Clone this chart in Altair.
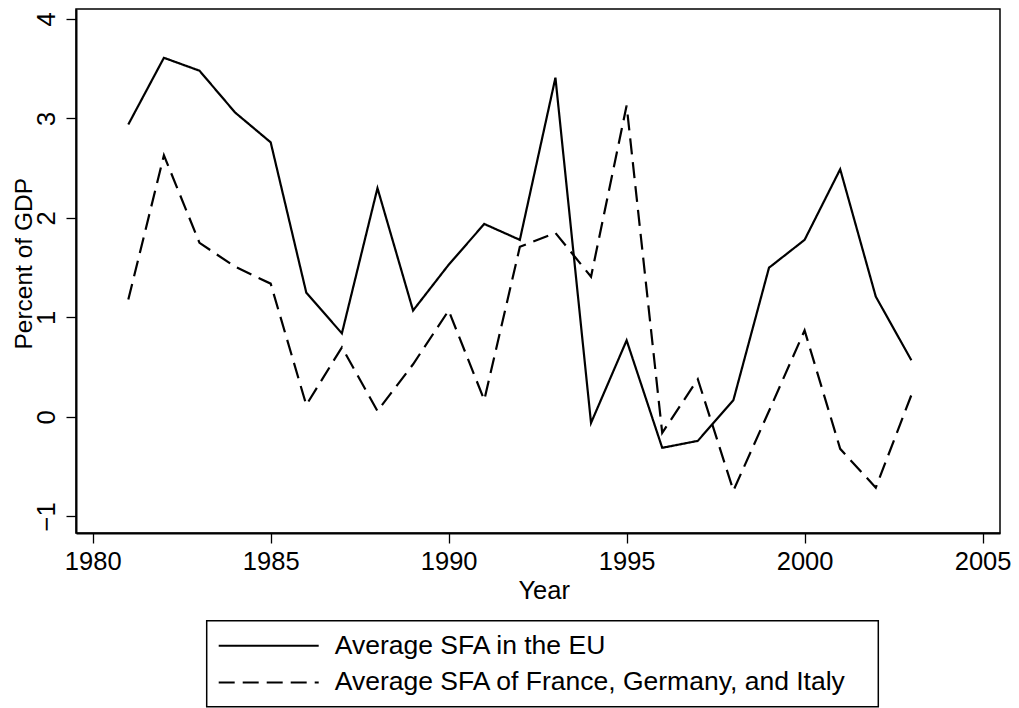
import altair as alt
import pandas as pd

# ---- data ----
years = list(range(1981, 2004))
eu_avg = [2.94, 3.61, 3.48, 3.06, 2.76, 1.25, 0.84, 2.30, 1.07, 1.53, 1.94, 1.78,
          3.41, -0.06, 0.77, -0.31, -0.24, 0.17, 1.50, 1.78, 2.49, 1.21, 0.57]
fgi_avg = [1.18, 2.63, 1.75, 1.51, 1.34, 0.12, 0.70, 0.06, 0.53, 1.07, 0.17, 1.71,
           1.85, 1.41, 3.13, -0.16, 0.38, -0.74, 0.06, 0.87, -0.32, -0.71, 0.22]
series_names = ["Average SFA in the EU", "Average SFA of France, Germany, and Italy"]
x_ticks = [1980, 1985, 1990, 1995, 2000, 2005]
y_ticks = [-1, 0, 1, 2, 3, 4]

df = pd.DataFrame({
    "Year": years + years,
    "Value": eu_avg + fgi_avg,
    "Series": [series_names[0]] * len(years) + [series_names[1]] * len(years),
})

FONT = "Liberation Sans"
FS = 25.5

common_axis = dict(
    grid=False, labelFlush=False, labelFont=FONT, labelFontSize=FS, labelColor="black",
    titleFont=FONT, titleFontSize=FS, titleFontWeight="normal", titleColor="black",
    tickColor="black", domainColor="black", tickSize=10, tickWidth=1.3, domainWidth=2,
)

y_axis_opts = dict(common_axis)
y_axis_opts["titleFontSize"] = 24.5

lines = alt.Chart(df).mark_line(color="black", strokeWidth=2.2).encode(
    x=alt.X("Year:Q",
            scale=alt.Scale(domain=[1979.53, 2005.49], nice=False, zero=False),
            axis=alt.Axis(values=x_ticks, format="d", title="Year",
                          labelBaseline="alphabetic", labelPadding=26,
                          titleAlign="center", titleBaseline="alphabetic",
                          titleX=467.7, titleY=65, **common_axis)),
    y=alt.Y("Value:Q",
            scale=alt.Scale(domain=[-1.166, 4.1003], nice=False, zero=False),
            axis=alt.Axis(values=y_ticks, title="Percent of GDP",
                          labelAngle=270, labelAlign="center", labelBaseline="alphabetic",
                          labelPadding=11.7,
                          titleAngle=270, titleAlign="center", titleBaseline="alphabetic",
                          titleX=-45, titleY=254.3, **y_axis_opts)),
    strokeDash=alt.StrokeDash(
        "Series:N",
        scale=alt.Scale(domain=series_names, range=[[1, 0], [16, 8]]),
        legend=alt.Legend(title=None, orient="none", legendX=130.7, legendY=611.7,
                          direction="vertical", symbolType="stroke", symbolSize=10000,
                          symbolStrokeWidth=2, symbolStrokeColor="black",
                          clipHeight=28, rowPadding=8.7, padding=11, labelOffset=15,
                          labelFont=FONT, labelFontSize=26.5, labelColor="black",
                          labelLimit=0)),
)

box = alt.Chart(alt.Data(values=[{"k": 1}])).mark_rect(
    fillOpacity=0, stroke="black", strokeWidth=1.5
).encode(
    x=alt.value(130.7), x2=alt.value(802.3),
    y=alt.value(611.7), y2=alt.value(697.7),
)

chart = alt.layer(lines, box).properties(
    width=924, height=524,
    padding={"left": 68, "top": 1, "right": 11, "bottom": 175},
    autosize=alt.AutoSizeParams(type="none"),
    background="white",
).configure(
    font=FONT
).configure_view(
    stroke="black", strokeWidth=1.5
)

chart.save("out.html", embed_options={"renderer": "svg", "actions": False})
